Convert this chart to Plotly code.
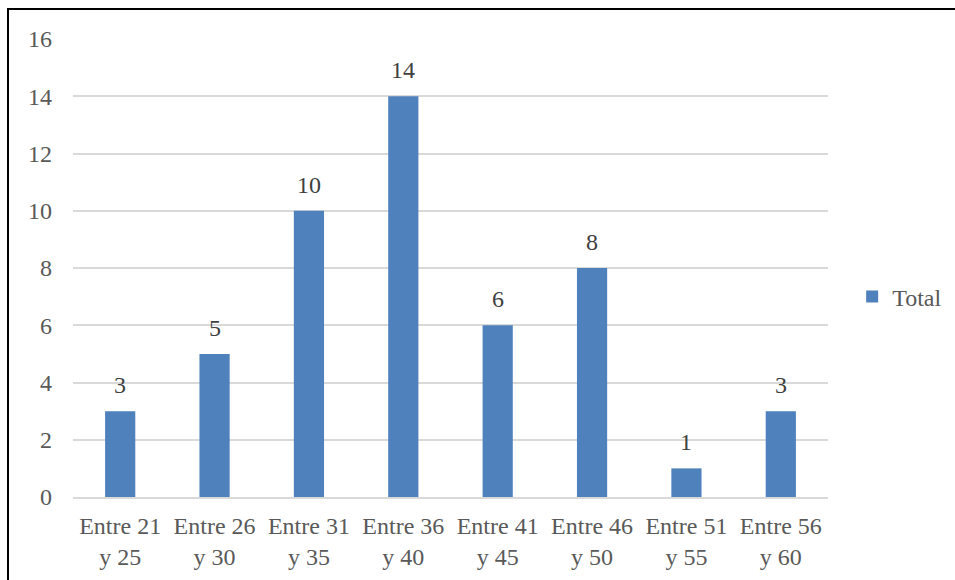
import plotly.graph_objects as go

categories = ["Entre 21<br>y 25", "Entre 26<br>y 30", "Entre 31<br>y 35", "Entre 36<br>y 40",
              "Entre 41<br>y 45", "Entre 46<br>y 50", "Entre 51<br>y 55", "Entre 56<br>y 60"]
totals = [3, 5, 10, 14, 6, 8, 1, 3]
y_ticks = [0, 2, 4, 6, 8, 10, 12, 14, 16]

FONT = "Liberation Serif, Times New Roman, serif"
GREY = "#595959"

fig = go.Figure(go.Bar(
    x=categories, y=totals, name="Total",
    marker=dict(color="#4f81bd", line=dict(width=0)),
    width=0.32,
))

# value labels above each bar
for cat, val in zip(categories, totals):
    fig.add_annotation(x=cat, y=val, text=str(val), showarrow=False,
                       yanchor="bottom", yshift=11,
                       font=dict(family=FONT, size=24, color="#404040"))

fig.update_layout(
    width=955, height=580,
    margin=dict(l=73, r=127, t=39, b=83, autoexpand=False),
    paper_bgcolor="white", plot_bgcolor="white",
    font=dict(family=FONT, size=24, color=GREY),
    showlegend=True,
    legend=dict(x=1.032, y=0.437, xanchor="left", yanchor="middle",
                font=dict(family=FONT, size=24, color=GREY),
                itemwidth=30),
    xaxis=dict(showgrid=False, showline=True, linecolor="#d9d9d9", linewidth=1.5,
               ticks="", ticklabelstandoff=6,
               tickfont=dict(family=FONT, size=24, color=GREY)),
    yaxis=dict(range=[0, 16], tickvals=y_ticks, showgrid=True, gridcolor="#d9d9d9",
               gridwidth=1.5, zeroline=False, showline=False, ticks="",
               ticklabelstandoff=20,
               tickfont=dict(family=FONT, size=24, color=GREY)),
    bargap=0.68,
)

# chart frame (only its top and left edges fall inside the page)
fig.add_shape(type="rect", xref="paper", yref="paper",
              x0=-0.0861, x1=1.25, y0=-0.25, y1=1.0655,
              line=dict(color="black", width=2), fillcolor="rgba(0,0,0,0)")

fig.write_html("out.html")
